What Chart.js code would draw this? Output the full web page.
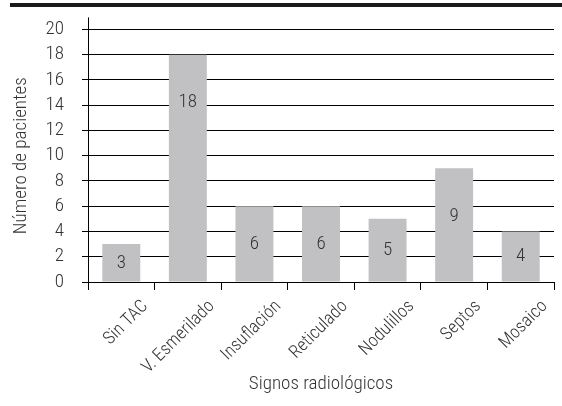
<!DOCTYPE html>
<html>
<head>
<meta charset="utf-8">
<script src="https://cdn.jsdelivr.net/npm/chart.js@4.4.0/dist/chart.umd.min.js"></script>
<style>
    html, body { margin: 0; padding: 0; background: #fff; }
    #topbar { position: absolute; left: 10px; right: 0; top: 3px; height: 4px; background: #1a1a1a; }
    #wrap { position: absolute; left: 0; top: 0; width: 562px; height: 406px; }
</style>
</head>
<body>
<div id="topbar"></div>
<div id="wrap"><canvas id="chart" width="562" height="406"></canvas></div>
<script>
const categories = ['Sin TAC', 'V. Esmerilado', 'Insuflación', 'Reticulado', 'Nodulillos', 'Septos', 'Mosaico'];
const pacientes = [3, 18, 6, 6, 5, 9, 4];
const yTicks = [0, 2, 4, 6, 8, 10, 12, 14, 16, 18, 20];

const FONT = "'Roboto Condensed', 'Liberation Sans Narrow', sans-serif";
const TEXT = '#333';

// axis extensions and value labels inside bars
const extras = {
    id: 'extras',
    afterDraw(chart) {
        const ctx = chart.ctx;
        const area = chart.chartArea;
        const x0 = chart.scales.x.left;
        ctx.save();
        ctx.strokeStyle = '#000';
        ctx.lineWidth = 1;
        ctx.beginPath();
        ctx.moveTo(x0 + 0.5, area.top - 12);
        ctx.lineTo(x0 + 0.5, area.bottom + 8);
        ctx.stroke();

        ctx.fillStyle = TEXT;
        ctx.font = '300 19px ' + FONT;
        ctx.textAlign = 'center';
        ctx.textBaseline = 'middle';
        const meta = chart.getDatasetMeta(0);
        meta.data.forEach((bar, i) => {
            const h = bar.base - bar.y;
            const y = bar.y + Math.min(h / 2, 48);
            ctx.fillText(String(pacientes[i]), bar.x, y);
        });
        ctx.restore();
    }
};

new Chart(document.getElementById('chart'), {
    type: 'bar',
    data: {
        labels: categories,
        datasets: [{
            data: pacientes,
            backgroundColor: '#c1c1c3',
            borderWidth: 0,
            barPercentage: 0.57,
            categoryPercentage: 1.0,
        }],
    },
    options: {
        responsive: false,
        animation: false,
        devicePixelRatio: 1,
        layout: { padding: { top: 29, right: 8, left: 0, bottom: 0 } },
        plugins: {
            legend: { display: false },
            tooltip: { enabled: false },
        },
        scales: {
            x: {
                offset: true,
                border: { display: false },
                afterFit(scale) {
                    scale.height = 406 - 282;
                },
                grid: {
                    offset: true,
                    drawOnChartArea: false,
                    drawTicks: true,
                    tickLength: 8,
                    color: '#000',
                },
                ticks: {
                    color: TEXT,
                    font: { family: FONT, size: 18, weight: 300 },
                    maxRotation: 45,
                    minRotation: 45,
                    labelOffset: 24,
                    padding: 6,
                },
                title: {
                    display: true,
                    text: 'Signos radiológicos',
                    color: TEXT,
                    font: { family: FONT, size: 19, weight: 300 },
                    padding: { top: 0, bottom: 10 },
                },
            },
            y: {
                min: 0,
                max: 20,
                border: { display: false },
                afterFit(scale) {
                    scale.width = 88;
                },
                afterBuildTicks(scale) {
                    scale.ticks = yTicks.map(v => ({ value: v }));
                },
                grid: {
                    color: '#000',
                    tickLength: 6,
                    drawTicks: true,
                },
                ticks: {
                    color: TEXT,
                    font: { family: FONT, size: 19, weight: 300 },
                    padding: 18,
                    autoSkip: false,
                },
                title: {
                    display: true,
                    text: 'Número de pacientes',
                    color: TEXT,
                    font: { family: FONT, size: 19, weight: 300 },
                    padding: { top: 10, bottom: 0 },
                },
            },
        },
    },
    plugins: [extras],
});
</script>
</body>
</html>
